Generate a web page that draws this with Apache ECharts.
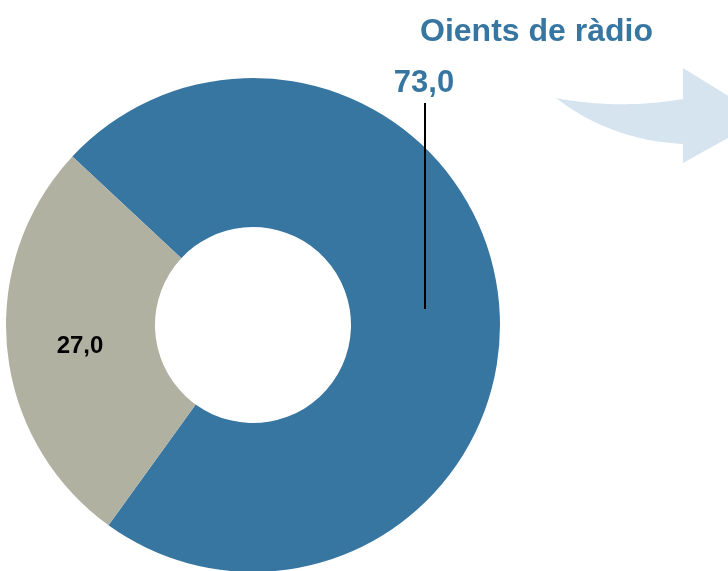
<!DOCTYPE html>
<html>
<head>
<meta charset="utf-8">
<script src="https://cdn.jsdelivr.net/npm/echarts@6/dist/echarts.min.js"></script>
<style>
  html, body { margin: 0; padding: 0; background: #fff; }
  #chart { width: 728px; height: 571px; }
</style>
</head>
<body>
<div id="chart"></div>
<script>
const titleText = 'Oients de ràdio'
const categories = ['Oients', 'No oients']
const values = [73.0, 27.0]
const colors = ['#3876a2', '#b1b1a2']

const fmt = v => v.toFixed(1).replace('.', ',')

// quadratic curve points for the decorative arrow outline
function quad(p0, c, p1, n) {
  let pts = []
  for (let k = 0; k <= n; k++) {
    let t = k / n
    pts.push([
      (1 - t) * (1 - t) * p0[0] + 2 * (1 - t) * t * c[0] + t * t * p1[0],
      (1 - t) * (1 - t) * p0[1] + 2 * (1 - t) * t * c[1] + t * t * p1[1]
    ])
  }
  return pts
}
const arrowPts = [].concat(
  quad([556, 98], [620, 110], [683, 99], 20),
  [[683, 68], [764, 118], [683, 163]],
  quad([683, 144], [610, 140], [556, 98], 20)
)

let chart = echarts.init(document.getElementById('chart'))

chart.setOption({
  animation: false,
  title: {
    text: titleText,
    left: 415,
    top: 11,
    textStyle: { fontFamily: 'Liberation Sans', fontSize: 32, fontWeight: 'bold', color: '#3876a2' }
  },
  graphic: [
    {
      type: 'polygon',
      shape: { points: arrowPts },
      style: { fill: '#d6e4f0' }
    },
    // leader line of the big slice label
    {
      type: 'line',
      z: 10,
      shape: { x1: 425, y1: 103, x2: 425, y2: 309 },
      style: { stroke: '#000', lineWidth: 2 }
    }
  ],
  series: [{
    type: 'pie',
    center: [253, 325],
    radius: [98, 247],
    startAngle: 137,
    clockwise: true,
    silent: true,
    labelLine: { show: false },
    data: categories.map((c, i) => ({
      name: c,
      value: values[i],
      itemStyle: { color: colors[i] },
      label: i === 0
        ? { show: true, position: 'outside', fontFamily: 'Liberation Sans', fontSize: 31, fontWeight: 'bold', color: '#3876a2' }
        : { show: true, position: 'inside', fontFamily: 'Liberation Sans', fontSize: 24, fontWeight: 'bold', color: '#000' }
    })),
    label: {
      formatter: p => fmt(p.value)
    },
    labelLayout: p => p.dataIndex === 0
      ? { x: 424, y: 83, align: 'center', verticalAlign: 'middle' }
      : { x: 80, y: 346, align: 'center', verticalAlign: 'middle' }
  }]
})

window.addEventListener('resize', () => chart.resize())
</script>
</body>
</html>
